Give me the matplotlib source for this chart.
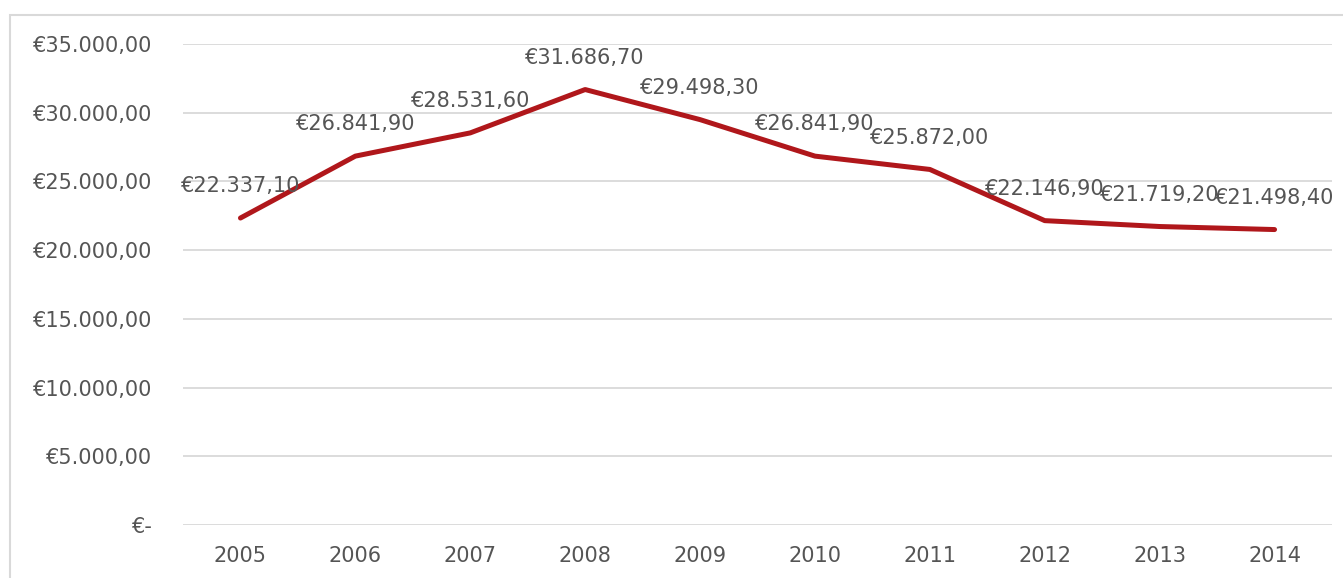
import matplotlib.pyplot as plt
from matplotlib.patches import Rectangle

years = ['2005', '2006', '2007', '2008', '2009', '2010', '2011', '2012', '2013', '2014']
values = [22337.1, 26841.9, 28531.6, 31686.7, 29498.3, 26841.9, 25872.0, 22146.9, 21719.2, 21498.4]
value_labels = ['€22.337,10', '€26.841,90', '€28.531,60', '€31.686,70', '€29.498,30',
                '€26.841,90', '€25.872,00', '€22.146,90', '€21.719,20', '€21.498,40']
y_ticks = [0, 5000, 10000, 15000, 20000, 25000, 30000, 35000]
y_tick_labels = ['€-', '€5.000,00', '€10.000,00', '€15.000,00', '€20.000,00',
                 '€25.000,00', '€30.000,00', '€35.000,00']

W, H = 1343, 578
plt.rcParams['font.family'] = ['DejaVu Sans']
text_col = '#555555'
fs = 15

fig = plt.figure(figsize=(W / 100, H / 100), dpi=100)
# chart border (runs off right and bottom)
fig.patches.append(Rectangle((10 / W, -0.1), 1.2, 1.1 - 15 / H,
                             transform=fig.transFigure, fill=False,
                             edgecolor='#d9d9d9', linewidth=1.5))

# axes: x from 183 to 1332 px, y 0 at 525 px, 35000 at 44 px
left, right = 183, 1332
y0, y35 = 525, 44
ax = fig.add_axes([left / W, (H - y0) / H, (right - left) / W, (y0 - y35) / H])

x = list(range(len(years)))
ax.plot(x, values, color='#b0171b', linewidth=3.6, solid_capstyle='round', solid_joinstyle='round', zorder=3)
for xi, v, lab in zip(x, values, value_labels):
    ax.annotate(lab, (xi, v), xytext=(0, 23), textcoords='offset points',
                ha='center', va='center', fontsize=fs, color=text_col, zorder=4)

ax.set_xlim(-0.5, len(years) - 0.5)
ax.set_ylim(0, 35000)
ax.set_yticks(y_ticks)
ax.set_yticklabels(y_tick_labels)
ax.set_xticks(x)
ax.set_xticklabels(years)
ax.tick_params(axis='both', length=0, labelsize=fs, labelcolor=text_col)
ax.tick_params(axis='y', pad=22)
ax.tick_params(axis='x', pad=15)
ax.grid(axis='y', color='#d9d9d9', linewidth=1.3)
ax.set_axisbelow(True)
for s in ax.spines.values():
    s.set_visible(False)

fig.savefig('out.png', dpi=100)
